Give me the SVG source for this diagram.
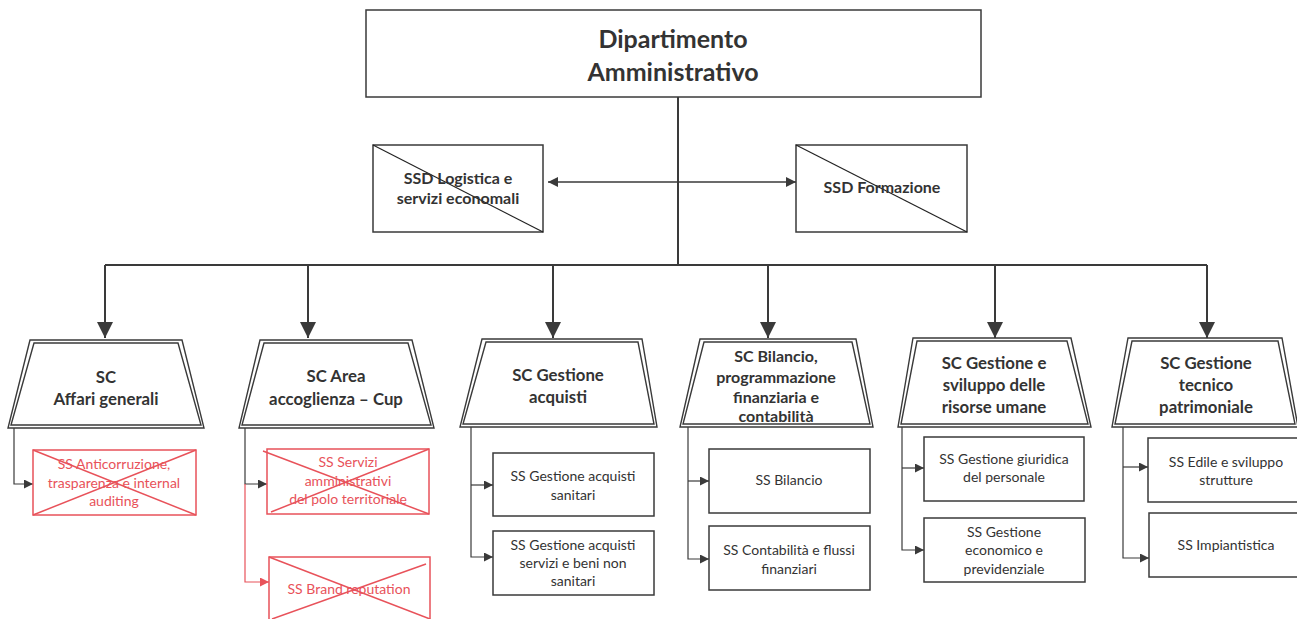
<svg xmlns="http://www.w3.org/2000/svg" width="1297" height="619" viewBox="0 0 1297 619">
<style>
.box{fill:#fff;stroke:#3a3a3a;stroke-width:1.5}
.tz{fill:#fff;stroke:#3a3a3a;stroke-width:1.4}
.rbox{fill:#fff;stroke:#e8525a;stroke-width:1.5}
.rx{stroke:#e8525a;stroke-width:1.5}
.dg{stroke:#222;stroke-width:1.2}
.t{font-family:Lato,"Open Sans",sans-serif;fill:#333;text-anchor:middle}
.b{font-weight:bold}
.h1{font-size:25px}
.h2{font-size:16px}
.h3{font-size:16.8px}
.s{font-size:14px}
.r{fill:#e8525a}
.ln{fill:none;stroke:#3a3a3a;stroke-width:2}
.sl{fill:none;stroke:#3a3a3a;stroke-width:1.2}
.rl{fill:none;stroke:#e8525a;stroke-width:1.2}
</style>
<defs>
<marker id="big" markerUnits="userSpaceOnUse" markerWidth="16" markerHeight="16" viewBox="0 0 16 16" refX="16" refY="8" orient="auto"><path d="M0,0 L16,8 L0,16 Z" fill="#3a3a3a"/></marker>
<marker id="mid" markerUnits="userSpaceOnUse" markerWidth="10" markerHeight="10" viewBox="0 0 10 10" refX="10" refY="5" orient="auto-start-reverse"><path d="M0,0 L10,5 L0,10 Z" fill="#3a3a3a"/></marker>
<marker id="sm" markerUnits="userSpaceOnUse" markerWidth="9" markerHeight="9" viewBox="0 0 10 10" refX="10" refY="5" orient="auto"><path d="M0,0 L10,5 L0,10 Z" fill="#3a3a3a"/></marker>
<marker id="smr" markerUnits="userSpaceOnUse" markerWidth="9" markerHeight="9" viewBox="0 0 10 10" refX="10" refY="5" orient="auto"><path d="M0,0 L10,5 L0,10 Z" fill="#e8525a"/></marker>
</defs>

<g id="connectors">
<path class="ln" d="M678,97 V265"/>
<path class="ln" d="M105,265 H1207"/>
<path class="ln" d="M105,265 V338" marker-end="url(#big)"/>
<path class="ln" d="M308,265 V338" marker-end="url(#big)"/>
<path class="ln" d="M553,265 V338" marker-end="url(#big)"/>
<path class="ln" d="M768,265 V338" marker-end="url(#big)"/>
<path class="ln" d="M995,265 V338" marker-end="url(#big)"/>
<path class="ln" d="M1207,265 V338" marker-end="url(#big)"/>
<path class="sl" style="stroke-width:1.5" d="M548,182 H796" marker-start="url(#mid)" marker-end="url(#mid)"/>
<path class="sl" d="M14,428 V484 H33" marker-end="url(#sm)"/>
<path class="sl" d="M245,428 V484 H267" marker-end="url(#sm)"/>
<path class="rl" d="M245,484 V582 H269" marker-end="url(#smr)"/>
<path class="sl" d="M471,427 V557 H493" marker-end="url(#sm)"/>
<path class="sl" d="M471,485 H493" marker-end="url(#sm)"/>
<path class="sl" d="M688,427 V559 H709" marker-end="url(#sm)"/>
<path class="sl" d="M688,481 H709" marker-end="url(#sm)"/>
<path class="sl" d="M902,427 V550 H924" marker-end="url(#sm)"/>
<path class="sl" d="M902,468 H924" marker-end="url(#sm)"/>
<path class="sl" d="M1123,427 V558 H1149" marker-end="url(#sm)"/>
<path class="sl" d="M1123,467 H1148" marker-end="url(#sm)"/>
</g>

<g id="dip">
<rect class="box" x="366" y="10" width="615" height="87"/>
<text class="t b h1" x="673" y="48">Dipartimento</text>
<text class="t b h1" x="673" y="81">Amministrativo</text>
</g>

<g id="ssd-logistica">
<rect class="box" x="373" y="145" width="170" height="87"/>
<line class="dg" x1="373" y1="145" x2="543" y2="232"/>
<text class="t b h2" x="458" y="184">SSD Logistica e</text>
<text class="t b h2" x="458" y="204">servizi economali</text>
</g>

<g id="ssd-formazione">
<rect class="box" x="796" y="145" width="171" height="87"/>
<line class="dg" x1="796" y1="145" x2="967" y2="232"/>
<text class="t b h2" x="882" y="193">SSD Formazione</text>
</g>

<g id="sc1">
<polygon class="tz" points="30,340 182,340 204,428 8,428"/>
<polygon class="tz" points="34,343 178,343 201,425 11,425"/>
<text class="t b h3" x="106" y="383">SC</text>
<text class="t b h3" x="106" y="405">Affari generali</text>
</g>

<g id="sc2">
<polygon class="tz" points="260,340 412,340 434,428 239,428"/>
<polygon class="tz" points="264,343 408,343 431,425 242,425"/>
<text class="t b h3" x="336" y="382">SC Area</text>
<text class="t b h3" x="336" y="405">accoglienza – Cup</text>
</g>

<g id="sc3">
<polygon class="tz" points="482,339 642,339 657,427 460,427"/>
<polygon class="tz" points="486,342 638,342 654,424 463,424"/>
<text class="t b h3" x="558" y="381">SC Gestione</text>
<text class="t b h3" x="558" y="403">acquisti</text>
</g>

<g id="sc4">
<polygon class="tz" points="700,339 856,339 873,427 680,427"/>
<polygon class="tz" points="704,342 852,342 870,424 683,424"/>
<text class="t b h2" x="776" y="362">SC Bilancio,</text>
<text class="t b h2" x="776" y="383">programmazione</text>
<text class="t b h2" x="776" y="403">finanziaria e</text>
<text class="t b h2" x="776" y="422">contabilità</text>
</g>

<g id="sc5">
<polygon class="tz" points="913,338 1071,338 1091,427 898,427"/>
<polygon class="tz" points="917,341 1067,341 1088,424 901,424"/>
<text class="t b h3" x="994" y="369">SC Gestione e</text>
<text class="t b h3" x="994" y="391">sviluppo delle</text>
<text class="t b h3" x="994" y="413">risorse umane</text>
</g>

<g id="sc6">
<polygon class="tz" points="1128,338 1282,338 1298,427 1112,427"/>
<polygon class="tz" points="1132,341 1278,341 1295,424 1115,424"/>
<text class="t b h3" x="1206" y="369">SC Gestione</text>
<text class="t b h3" x="1206" y="391">tecnico</text>
<text class="t b h3" x="1206" y="413">patrimoniale</text>
</g>

<g id="ss-anticorruzione">
<rect class="rbox" x="33" y="450" width="163" height="65"/>
<line class="rx" x1="33" y1="450" x2="196" y2="515"/>
<line class="rx" x1="196" y1="450" x2="33" y2="515"/>
<text class="t s r" x="114" y="469">SS Anticorruzione,</text>
<text class="t s r" x="114" y="488">trasparenza e internal</text>
<text class="t s r" x="114" y="506">auditing</text>
</g>

<g id="ss-servizi-amm">
<rect class="rbox" x="267" y="449" width="162" height="65"/>
<line class="rx" x1="263" y1="451" x2="429" y2="514"/>
<line class="rx" x1="429" y1="449" x2="271" y2="512"/>
<text class="t s r" x="348" y="467">SS Servizi</text>
<text class="t s r" x="348" y="486">amministrativi</text>
<text class="t s r" x="348" y="504">del polo territoriale</text>
</g>

<g id="ss-brand">
<rect class="rbox" x="269" y="557" width="161" height="66"/>
<line class="rx" x1="269" y1="557" x2="430" y2="619"/>
<line class="rx" x1="426" y1="564" x2="272" y2="619"/>
<text class="t s r" x="349" y="594">SS Brand reputation</text>
</g>

<g id="ss-acq-san">
<rect class="box" x="493" y="453" width="161" height="63"/>
<text class="t s" x="573" y="481">SS Gestione acquisti</text>
<text class="t s" x="573" y="500">sanitari</text>
</g>

<g id="ss-acq-nonsan">
<rect class="box" x="493" y="531" width="161" height="64"/>
<text class="t s" x="573" y="550">SS Gestione acquisti</text>
<text class="t s" x="573" y="568">servizi e beni non</text>
<text class="t s" x="573" y="586">sanitari</text>
</g>

<g id="ss-bilancio">
<rect class="box" x="709" y="449" width="161" height="64"/>
<text class="t s" x="789" y="485">SS Bilancio</text>
</g>

<g id="ss-contabilita">
<rect class="box" x="709" y="526" width="161" height="64"/>
<text class="t s" x="789" y="555">SS Contabilità e flussi</text>
<text class="t s" x="789" y="574">finanziari</text>
</g>

<g id="ss-giuridica">
<rect class="box" x="924" y="437" width="160" height="64"/>
<text class="t s" x="1004" y="464">SS Gestione giuridica</text>
<text class="t s" x="1004" y="482">del personale</text>
</g>

<g id="ss-economico">
<rect class="box" x="924" y="518" width="161" height="64"/>
<text class="t s" x="1004" y="537">SS Gestione</text>
<text class="t s" x="1004" y="555">economico e</text>
<text class="t s" x="1004" y="574">previdenziale</text>
</g>

<g id="ss-edile">
<rect class="box" x="1148" y="438" width="160" height="64"/>
<text class="t s" x="1226" y="467">SS Edile e sviluppo</text>
<text class="t s" x="1226" y="485">strutture</text>
</g>

<g id="ss-impiantistica">
<rect class="box" x="1149" y="513" width="159" height="64"/>
<text class="t s" x="1226" y="550">SS Impiantistica</text>
</g>
</svg>
